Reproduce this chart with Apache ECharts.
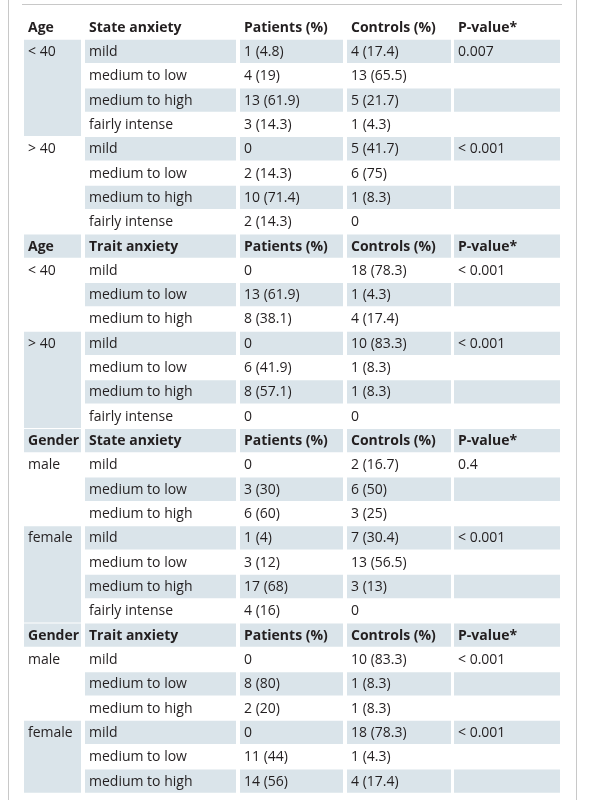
<!DOCTYPE html>
<html><head><meta charset="utf-8">
<script src="https://cdn.jsdelivr.net/npm/echarts@6/dist/echarts.min.js"></script>
<style>html,body{margin:0;padding:0;background:#fff}#c{width:593px;height:800px}</style>
</head><body><div id="c"></div>
<script>
const headers = [
  ["Age","State anxiety","Patients (%)","Controls (%)","P-value*"],
  ["Age","Trait anxiety","Patients (%)","Controls (%)","P-value*"],
  ["Gender","State anxiety","Patients (%)","Controls (%)","P-value*"],
  ["Gender","Trait anxiety","Patients (%)","Controls (%)","P-value*"]
];
const groups = [
  [["< 40",["mild","medium to low","medium to high","fairly intense"],["1 (4.8)","4 (19)","13 (61.9)","3 (14.3)"],["4 (17.4)","13 (65.5)","5 (21.7)","1 (4.3)"],"0.007"],
   ["> 40",["mild","medium to low","medium to high","fairly intense"],["0","2 (14.3)","10 (71.4)","2 (14.3)"],["5 (41.7)","6 (75)","1 (8.3)","0"],"< 0.001"]],
  [["< 40",["mild","medium to low","medium to high"],["0","13 (61.9)","8 (38.1)"],["18 (78.3)","1 (4.3)","4 (17.4)"],"< 0.001"],
   ["> 40",["mild","medium to low","medium to high","fairly intense"],["0","6 (41.9)","8 (57.1)","0"],["10 (83.3)","1 (8.3)","1 (8.3)","0"],"< 0.001"]],
  [["male",["mild","medium to low","medium to high"],["0","3 (30)","6 (60)"],["2 (16.7)","6 (50)","3 (25)"],"0.4"],
   ["female",["mild","medium to low","medium to high","fairly intense"],["1 (4)","3 (12)","17 (68)","4 (16)"],["7 (30.4)","13 (56.5)","3 (13)","0"],"< 0.001"]],
  [["male",["mild","medium to low","medium to high"],["0","8 (80)","2 (20)"],["10 (83.3)","1 (8.3)","1 (8.3)"],"< 0.001"],
   ["female",["mild","medium to low","medium to high"],["0","11 (44)","14 (56)"],["18 (78.3)","1 (4.3)","4 (17.4)"],"< 0.001"]]
];
const groupShaded = [[true,false],[false,true],[false,true],[false,true]];

const colX = [24,85,240,347,454];
const colW = [57,151,103,104,106];
const top0 = 15.5, pitch = 24.32, cellH = 23.3;
const SH = '#dae4ea';

const cells = [];
let r = 0;
headers.forEach((h, b) => {
  const hs = r % 2 === 1;
  h.forEach((t, c) => cells.push([c, r, 1, t, 1, hs ? 1 : 0]));
  r++;
  groups[b].forEach((g, gi) => {
    const n = g[1].length;
    cells.push([0, r, n, g[0], 0, groupShaded[b][gi] ? 1 : 0]);
    for (let k = 0; k < n; k++) {
      const s = (r + k) % 2 === 1 ? 1 : 0;
      cells.push([1, r + k, 1, g[1][k], 0, s]);
      cells.push([2, r + k, 1, g[2][k], 0, s]);
      cells.push([3, r + k, 1, g[3][k], 0, s]);
      cells.push([4, r + k, 1, k === 0 ? g[4] : "", 0, s]);
    }
    r += n;
  });
});

const chart = echarts.init(document.getElementById('c'), null, {renderer:'canvas'});
chart.setOption({
  animation:false,
  grid:{left:0,right:0,top:0,bottom:0},
  xAxis:{type:'value',min:0,max:593,show:false},
  yAxis:{type:'value',min:0,max:800,inverse:true,show:false},
  graphic:[
    {type:'line',shape:{x1:8.5,y1:0,x2:8.5,y2:800},style:{stroke:'#c8c8c8',lineWidth:1}},
    {type:'line',shape:{x1:576.5,y1:0,x2:576.5,y2:800},style:{stroke:'#c8c8c8',lineWidth:1}},
    {type:'line',shape:{x1:22,y1:4.5,x2:562,y2:4.5},style:{stroke:'#c8c8c8',lineWidth:1}}
  ],
  series:[{
    type:'custom',
    data:cells.map(c=>[colX[c[0]], top0 + pitch*c[1], c[0], c[2], c[3], c[4], c[5]]),
    encode:{x:0,y:1},
    renderItem:function(params, api){
      const p = api.coord([api.value(0), api.value(1)]);
      const col = api.value(2), span = api.value(3);
      const txt = cells[params.dataIndex][3];
      const bold = api.value(5), sh = api.value(6);
      const h = pitch*(span-1) + cellH;
      const ch = [];
      if (sh) ch.push({type:'rect',shape:{x:p[0],y:p[1],width:colW[col],height:h},style:{fill:SH}});
      ch.push({type:'text',style:{x:p[0]+4,y:p[1]+cellH/2+0.5,text:txt,fill:'#231f20',
        font:(bold?'bold ':'')+'14px "Open Sans", sans-serif',verticalAlign:'middle',align:'left'}});
      return {type:'group',children:ch};
    }
  }]
});
</script></body></html>
